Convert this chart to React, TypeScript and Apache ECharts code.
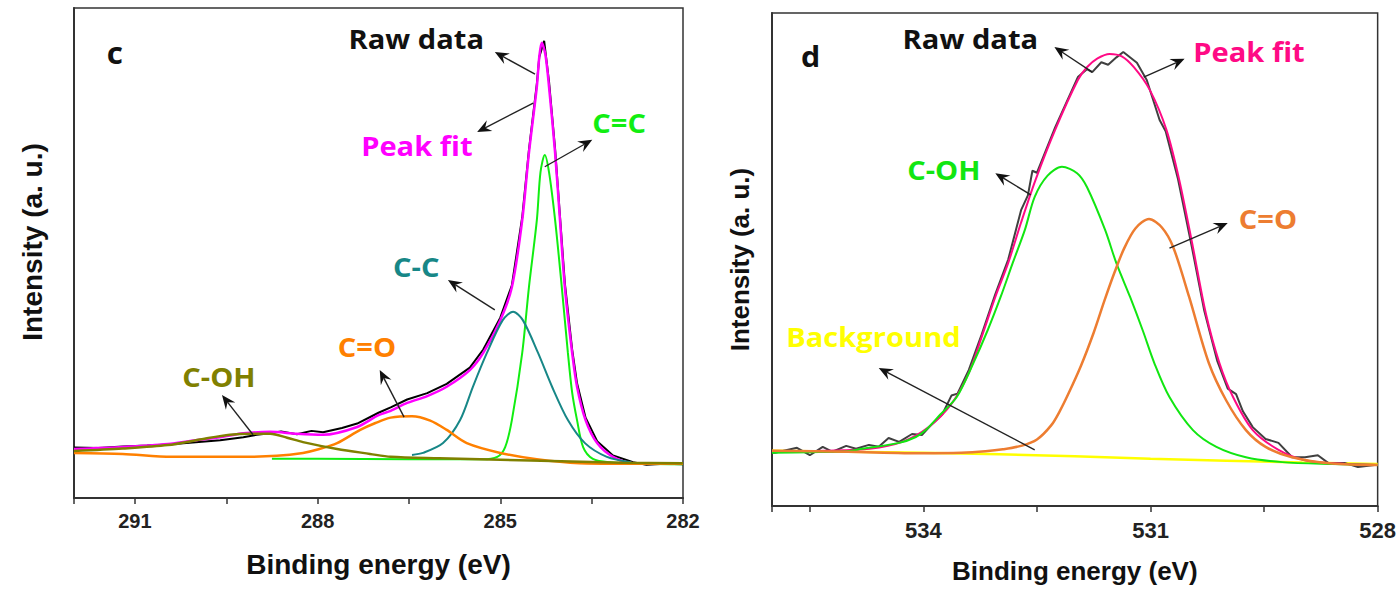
import React, { useEffect, useRef } from 'react';
import * as echarts from 'echarts';

type P = [number, number][];

// ---------- tick labels ----------
const cTickLabels = ['291', '288', '285', '282'];
const dTickLabels = ['534', '531', '528'];

// ---------- panel c (C 1s) ----------
const cRaw: P = [
  [282.0, 6.9], [282.3, 7.0], [282.6, 6.8], [282.82, 7.3], [283.15, 8.7], [283.41, 11.6],
  [283.6, 16.4], [283.74, 23.4], [283.82, 30.3], [283.94, 43.8], [284.02, 57.5], [284.1, 71.2],
  [284.2, 85.0], [284.28, 93.3], [284.36, 90.0], [284.4, 84.5], [284.53, 71.0], [284.64, 57.3],
  [284.81, 43.4], [285.0, 36.8], [285.28, 30.3], [285.5, 26.6], [285.88, 23.3], [286.2, 21.4],
  [286.53, 20.1], [286.8, 18.5], [287.0, 17.4], [287.35, 15.2], [287.6, 14.3], [287.91, 13.4],
  [288.1, 13.7], [288.34, 13.0], [288.6, 13.6], [288.78, 13.2], [289.0, 12.9], [289.22, 12.4],
  [289.6, 11.8], [290.0, 11.4], [290.46, 10.9], [290.8, 10.7], [291.2, 10.5], [291.6, 10.2], [292.0, 10.3],
];
const cFit: P = [
  [282.0, 7.0], [282.5, 7.0], [282.82, 7.1], [283.15, 8.4], [283.41, 11.2], [283.6, 15.9],
  [283.74, 22.7], [283.82, 29.6], [283.94, 43.0], [284.02, 56.7], [284.1, 70.4], [284.2, 83.9],
  [284.26, 90.5], [284.32, 92.9], [284.36, 90.0], [284.4, 83.9], [284.53, 70.4], [284.64, 56.7],
  [284.81, 43.0], [285.0, 36.3], [285.28, 29.6], [285.5, 26.1], [285.88, 22.7], [286.2, 20.8],
  [286.53, 19.4], [286.8, 17.8], [287.0, 16.9], [287.35, 14.5], [287.91, 12.9], [288.34, 13.1],
  [288.78, 13.5], [289.22, 13.2], [289.6, 12.4], [290.0, 11.8], [290.46, 11.0], [291.2, 10.4], [292.0, 10.0],
];
const cCdC: P = [
  [282.0, 6.9], [282.6, 7.0], [283.2, 7.3], [283.48, 8.0], [283.64, 10.4], [283.74, 15.9],
  [283.82, 21.5], [283.89, 29.6], [283.99, 43.0], [284.1, 56.7], [284.2, 66.5], [284.27, 70.0],
  [284.34, 66.5], [284.4, 56.7], [284.53, 43.0], [284.64, 29.6], [284.81, 15.9], [284.92, 10.4],
  [285.05, 8.4], [285.3, 7.9], [286.5, 7.9], [288.0, 8.0], [288.75, 8.0],
];
const cCC: P = [
  [282.85, 7.3], [283.25, 8.4], [283.61, 11.2], [283.89, 15.9], [284.15, 22.7], [284.38, 29.6],
  [284.63, 36.3], [284.79, 38.0], [284.96, 36.3], [285.22, 29.6], [285.45, 22.7], [285.66, 15.9],
  [285.94, 11.2], [286.27, 9.2], [286.45, 8.8],
];
const cCO: P = [
  [282.0, 7.0], [283.0, 7.0], [283.7, 7.1], [284.4, 7.9], [285.0, 9.2], [285.55, 11.2],
  [285.88, 13.9], [286.15, 15.8], [286.45, 16.7], [286.8, 16.4], [287.05, 15.3], [287.3, 13.9],
  [287.68, 11.2], [288.0, 9.9], [288.24, 9.2], [288.67, 8.6], [289.2, 8.4], [290.4, 8.4],
  [291.2, 9.0], [292.0, 9.2],
];
const cCOH: P = [
  [282.0, 7.1], [283.0, 7.2], [284.0, 7.5], [285.0, 7.8], [286.0, 8.1], [286.8, 8.4],
  [287.14, 9.0], [287.68, 10.0], [288.24, 11.4], [288.5, 12.3], [288.78, 13.1], [289.1, 13.1],
  [289.44, 12.9], [289.9, 12.0], [290.46, 10.8], [291.2, 10.1], [292.0, 9.6],
];

// ---------- panel d (O 1s) ----------
const dRaw: P = [
  [536.0, 10.8], [535.96, 10.8], [535.67, 11.8], [535.5, 10.3], [535.33, 12.0], [535.2, 11.0],
  [535.02, 12.2], [534.89, 11.6], [534.72, 12.4], [534.59, 12.0], [534.46, 13.8], [534.32, 13.0],
  [534.15, 14.6], [534.02, 14.4], [533.9, 16.4], [533.75, 18.6], [533.63, 22.4], [533.55, 22.8],
  [533.4, 27.6], [533.23, 34.8], [533.05, 43.0], [532.88, 50.0], [532.71, 60.0], [532.62, 63.0],
  [532.56, 68.0], [532.5, 67.6], [532.26, 76.8], [531.96, 87.0], [531.84, 88.6], [531.77, 88.0],
  [531.65, 90.0], [531.56, 89.5], [531.45, 91.0], [531.36, 92.1], [531.18, 89.9], [531.05, 86.4],
  [530.88, 78.3], [530.8, 76.0], [530.64, 66.5], [530.46, 53.0], [530.29, 39.6], [530.12, 29.5],
  [529.98, 23.8], [529.87, 22.7], [529.78, 19.2], [529.65, 16.0], [529.48, 13.6], [529.31, 12.8],
  [529.13, 9.9], [528.96, 9.9], [528.79, 10.3], [528.65, 8.7], [528.43, 8.7], [528.26, 7.9], [528.04, 8.3], [528.0, 8.3],
];
const dFit: P = [
  [536.0, 11.0], [535.3, 11.2], [534.71, 11.6], [534.28, 13.0], [533.93, 16.0], [533.62, 20.9],
  [533.4, 27.0], [533.23, 34.3], [533.05, 42.4], [532.88, 49.3], [532.71, 57.5], [532.52, 66.1],
  [532.26, 76.3], [531.96, 86.4], [531.84, 89.0], [531.7, 90.8], [531.54, 91.7], [531.38, 91.2],
  [531.22, 89.0], [531.01, 84.4], [530.79, 76.3], [530.62, 66.1], [530.44, 52.5], [530.27, 39.1],
  [530.09, 29.0], [529.91, 22.1], [529.65, 15.4], [529.31, 11.4], [528.96, 9.3], [528.5, 8.6], [528.0, 8.3],
];
const dCOH: P = [
  [536.0, 10.8], [535.5, 10.9], [535.0, 11.1], [534.81, 11.6], [534.32, 12.8], [534.1, 14.0],
  [533.97, 15.4], [533.78, 18.5], [533.56, 22.1], [533.34, 29.0], [533.15, 35.7], [532.98, 42.4],
  [532.82, 49.3], [532.66, 56.0], [532.53, 62.7], [532.36, 67.0], [532.17, 68.8], [531.97, 67.5],
  [531.84, 64.7], [531.6, 56.0], [531.45, 49.2], [531.27, 42.4], [531.1, 35.5], [530.95, 29.0],
  [530.75, 22.1], [530.44, 15.4], [530.13, 12.0], [529.74, 9.9], [529.26, 8.9], [528.6, 8.5], [528.0, 8.3],
];
const dCO: P = [
  [536.0, 11.2], [535.0, 11.0], [534.0, 10.7], [533.5, 10.8], [533.18, 11.1], [532.95, 11.5],
  [532.71, 12.2], [532.5, 13.5], [532.31, 16.4], [532.2, 19.2], [532.09, 22.6], [531.92, 28.4],
  [531.75, 35.2], [531.61, 41.6], [531.48, 47.2], [531.35, 52.2], [531.2, 56.3], [531.02, 58.2],
  [530.85, 56.5], [530.7, 52.5], [530.49, 42.4], [530.23, 29.0], [530.0, 21.4], [529.74, 15.4],
  [529.48, 12.0], [529.13, 9.9], [528.6, 8.6], [528.0, 8.3],
];
const dBackground: P = [
  [536.0, 11.2], [535.0, 11.0], [534.0, 10.8], [533.0, 10.5], [532.0, 10.1], [531.0, 9.6],
  [530.0, 9.2], [529.0, 8.8], [528.0, 8.5],
];

// ---------- annotations (data coordinates) ----------
type Arrow = { grid: number; from: [number, number]; to: [number, number] };
const arrows: Arrow[] = [
  { grid: 0, from: [284.43, 86.5], to: [285.09, 91.0] },
  { grid: 0, from: [284.46, 80.6], to: [285.38, 74.7] },
  { grid: 0, from: [284.27, 67.6], to: [283.49, 73.1] },
  { grid: 0, from: [285.09, 38.4], to: [285.86, 44.5] },
  { grid: 0, from: [286.58, 16.5], to: [286.98, 26.1] },
  { grid: 0, from: [289.06, 12.9], to: [289.57, 21.0] },
  { grid: 1, from: [531.77, 88.0], to: [532.27, 93.1] },
  { grid: 1, from: [531.09, 87.0], to: [530.55, 90.7] },
  { grid: 1, from: [532.58, 63.1], to: [533.05, 67.5] },
  { grid: 1, from: [530.75, 52.3], to: [529.98, 57.4] },
  { grid: 1, from: [532.53, 11.4], to: [534.59, 28.0] },
];
type Label = { grid: number; text: string; at: [number, number]; color: string; size: number };
const labels: Label[] = [
  { grid: 0, text: 'c', at: [291.33, 91.0], color: '#111111', size: 30 },
  { grid: 0, text: 'Raw data', at: [286.38, 93.7], color: '#111111', size: 26 },
  { grid: 0, text: 'Peak fit', at: [286.37, 72.0], color: '#ff00ff', size: 26 },
  { grid: 0, text: 'C=C', at: [283.05, 76.7], color: '#11ee11', size: 26 },
  { grid: 0, text: 'C-C', at: [286.38, 47.3], color: '#178787', size: 26 },
  { grid: 0, text: 'C=O', at: [287.19, 30.8], color: '#ff8000', size: 26 },
  { grid: 0, text: 'C-OH', at: [289.62, 24.7], color: '#808000', size: 26 },
  { grid: 1, text: 'd', at: [535.49, 91.3], color: '#111111', size: 29 },
  { grid: 1, text: 'Raw data', at: [533.38, 94.7], color: '#111111', size: 26 },
  { grid: 1, text: 'Peak fit', at: [529.7, 92.1], color: '#ff0a85', size: 26 },
  { grid: 1, text: 'C-OH', at: [533.73, 68.2], color: '#11e611', size: 26 },
  { grid: 1, text: 'C=O', at: [529.45, 58.2], color: '#ed7d31', size: 26 },
  { grid: 1, text: 'Background', at: [534.66, 34.3], color: '#ffff00', size: 26 },
];

const AXIS_FONT = '"Liberation Sans", Arial, sans-serif';
const LABEL_FONT = '"Open Sans", "DejaVu Sans", sans-serif';

function xAxisFor(grid: number, min: number, max: number, ticks: string[], nameSize: number, labelSize: number) {
  return {
    type: 'value',
    gridIndex: grid,
    min,
    max,
    interval: 1.5,
    inverse: true,
    name: 'Binding energy (eV)',
    nameLocation: 'middle',
    nameGap: 52,
    nameTextStyle: { fontFamily: AXIS_FONT, fontWeight: 'bold', fontSize: nameSize, color: '#111' },
    axisLine: { show: true, onZero: false, lineStyle: { color: '#333', width: 2 } },
    axisTick: { show: true, inside: false, length: 6, lineStyle: { color: '#333', width: 1.5 } },
    axisLabel: {
      show: true,
      margin: 13,
      fontFamily: AXIS_FONT,
      fontWeight: 'bold',
      fontSize: labelSize,
      color: '#222',
      formatter: (v: number) => {
        const s = String(Math.round(v * 10) / 10);
        return ticks.includes(s) ? s : '';
      },
    },
    splitLine: { show: false },
  };
}

function yAxisFor(grid: number, nameSize: number, nameGap: number, shift: number) {
  return {
    type: 'value',
    gridIndex: grid,
    min: 0,
    max: 100,
    name: 'Intensity (a. u.)',
    nameLocation: 'middle',
    nameGap,
    nameTextStyle: {
      fontFamily: AXIS_FONT,
      fontWeight: 'bold',
      fontSize: nameSize,
      color: '#111',
      padding: [0, 0, 0, shift],
    },
    axisLine: { show: true, lineStyle: { color: '#333', width: 2 } },
    axisTick: { show: false },
    axisLabel: { show: false },
    splitLine: { show: false },
  };
}

function line(grid: number, name: string, data: P, color: string, width: number, smooth: number | boolean, z: number) {
  return {
    type: 'line',
    name,
    xAxisIndex: grid,
    yAxisIndex: grid,
    data,
    showSymbol: false,
    symbol: 'none',
    smooth,
    clip: true,
    z,
    lineStyle: { color, width },
    silent: true,
  };
}

export default function App() {
  const ref = useRef<HTMLDivElement>(null);
  useEffect(() => {
    const el = ref.current;
    if (!el) return;
    const chart = echarts.init(el, undefined, { renderer: 'svg' });
    chart.setOption({
      animation: false,
      backgroundColor: '#ffffff',
      grid: [
        { left: 74, top: 8, width: 609, height: 490, show: true, borderColor: '#333', borderWidth: 1.5, backgroundColor: 'transparent' },
        { left: 772, top: 13, width: 611, height: 493, show: true, borderColor: '#333', borderWidth: 1.5, backgroundColor: 'transparent' },
      ],
      xAxis: [
        xAxisFor(0, 282, 292, cTickLabels, 28, 20),
        xAxisFor(1, 528, 536, dTickLabels, 26, 22),
      ],
      yAxis: [yAxisFor(0, 28, 28, 22), yAxisFor(1, 26, 19, 0)],
      series: [
        line(0, 'Raw data', cRaw, '#000000', 2, false, 2),
        line(0, 'Peak fit', cFit, '#ff00ff', 2.5, 0.3, 3),
        line(0, 'C=C', cCdC, '#11ee11', 2, 0.3, 4),
        line(0, 'C-C', cCC, '#178787', 2, 0.3, 5),
        line(0, 'C=O', cCO, '#ff8000', 2.5, 0.3, 6),
        line(0, 'C-OH', cCOH, '#808000', 2.5, 0.3, 7),
        line(1, 'Background', dBackground, '#ffff00', 2.5, false, 2),
        line(1, 'Raw data', dRaw, '#404040', 2, false, 3),
        line(1, 'Peak fit', dFit, '#ff0a85', 2, 0.3, 4),
        line(1, 'C-OH', dCOH, '#11e611', 2, 0.3, 5),
        line(1, 'C=O', dCO, '#ed7d31', 2.5, 0.3, 6),
      ],
    });

    const toPx = (grid: number, p: [number, number]) =>
      chart.convertToPixel({ xAxisIndex: grid, yAxisIndex: grid } as any, p) as unknown as number[];

    const graphic: any[] = [];
    arrows.forEach((a) => {
      const t = toPx(a.grid, a.from);
      const h = toPx(a.grid, a.to);
      const dx = h[0] - t[0];
      const dy = h[1] - t[1];
      const len = Math.sqrt(dx * dx + dy * dy) || 1;
      const ux = dx / len;
      const uy = dy / len;
      const nx = -uy;
      const ny = ux;
      const L = 14;
      const W = 6;
      const notch = 9;
      graphic.push({
        type: 'line',
        silent: true,
        z: 100,
        shape: { x1: t[0], y1: t[1], x2: h[0] - ux * notch, y2: h[1] - uy * notch },
        style: { stroke: '#222', lineWidth: 1.4 },
      });
      graphic.push({
        type: 'polygon',
        silent: true,
        z: 100,
        shape: {
          points: [
            [h[0], h[1]],
            [h[0] - ux * L + nx * W, h[1] - uy * L + ny * W],
            [h[0] - ux * notch, h[1] - uy * notch],
            [h[0] - ux * L - nx * W, h[1] - uy * L - ny * W],
          ],
        },
        style: { fill: '#111' },
      });
    });
    labels.forEach((lb) => {
      const p = toPx(lb.grid, lb.at);
      graphic.push({
        type: 'text',
        silent: true,
        z: 101,
        x: p[0],
        y: p[1],
        scaleX: lb.text.length === 1 ? 1.05 : 1.12,
        style: {
          text: lb.text,
          fill: lb.color,
          fontFamily: LABEL_FONT,
          fontWeight: 'bold',
          fontSize: lb.size,
          align: 'center',
          verticalAlign: 'middle',
        },
      });
    });
    chart.setOption({ graphic });

    return () => {
      chart.dispose();
    };
  }, []);

  return (
    <div
      ref={ref}
      style={{ position: 'fixed', left: 0, top: 0, width: 1399, height: 589, background: '#ffffff' }}
    />
  );
}
